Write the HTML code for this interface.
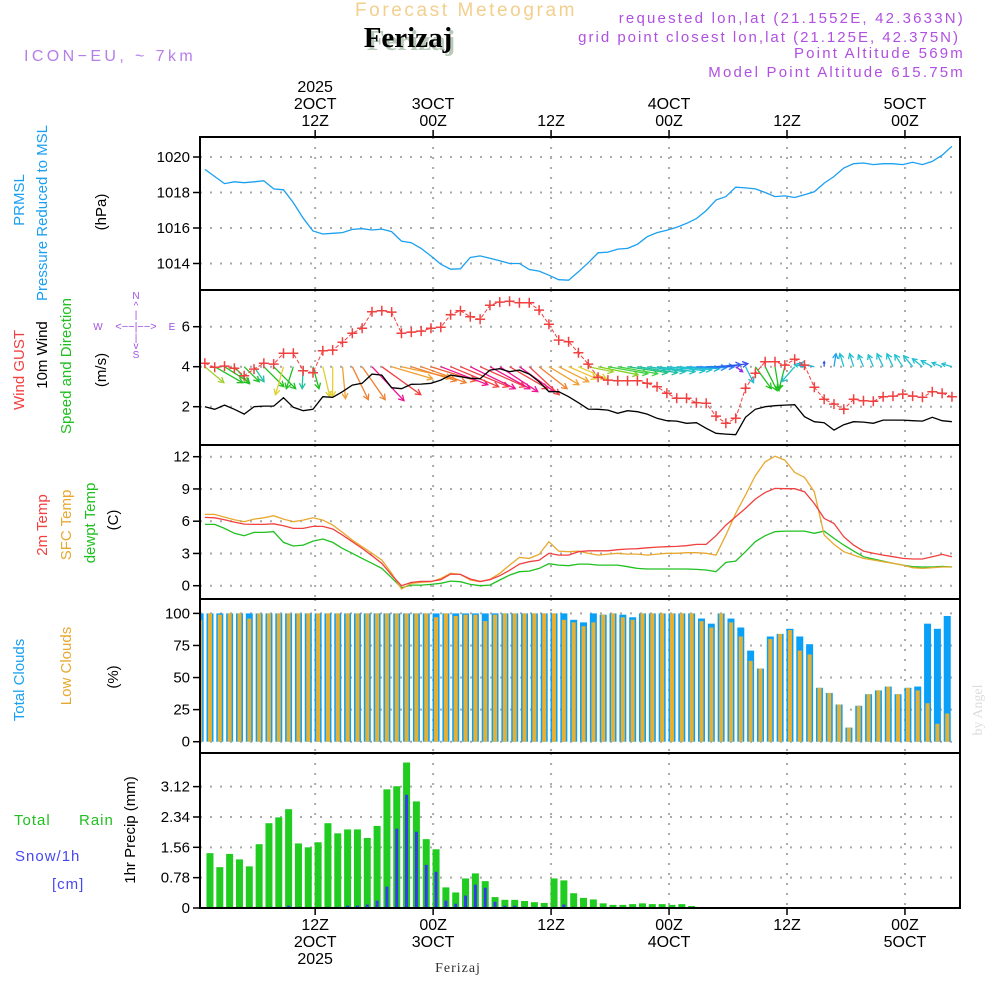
<!DOCTYPE html>
<html><head><meta charset="utf-8"><style>
html,body{margin:0;padding:0;background:#fff;}
svg{display:block;font-family:"Liberation Sans",sans-serif;}
</style></head><body>
<svg id="chart" xmlns="http://www.w3.org/2000/svg" width="1000" height="1000" viewBox="0 0 1000 1000">
<g id="header">
<text x="466" y="16" font-size="19" fill="#f3cf8e" text-anchor="middle" letter-spacing="2.6">Forecast Meteogram</text>
<text x="411" y="50" font-size="29" font-weight="bold" fill="#b9c9b9" text-anchor="middle" font-family="Liberation Serif, serif">Ferizaj</text>
<text x="408" y="47" font-size="29" font-weight="bold" fill="#000" text-anchor="middle" font-family="Liberation Serif, serif">Ferizaj</text>
<text x="24" y="61" font-size="16" fill="#b57ee8" letter-spacing="3.4">ICON−EU, ~ 7km</text>
<text x="965" y="23" font-size="15" fill="#b050e0" text-anchor="end" letter-spacing="2.2">requested lon,lat (21.1552E, 42.3633N)</text>
<text x="960" y="42" font-size="15" fill="#b050e0" text-anchor="end" letter-spacing="2.0">grid point closest lon,lat (21.125E, 42.375N)</text>
<text x="965" y="58" font-size="15" fill="#b050e0" text-anchor="end" letter-spacing="2.2">Point Altitude 569m</text>
<text x="965" y="77" font-size="15" fill="#b050e0" text-anchor="end" letter-spacing="2.2">Model Point Altitude 615.75m</text>
</g>
<g id="grid"></g>
<g id="marks"></g>
<g id="frames"></g>
<g id="labels" font-size="15">
<text transform="translate(24,200) rotate(-90)" fill="#1aa0f0" text-anchor="middle">PRMSL</text>
<text transform="translate(47,213) rotate(-90)" fill="#1aa0f0" text-anchor="middle">Pressure Reduced to MSL</text>
<text transform="translate(106,212) rotate(-90)" fill="#000" text-anchor="middle">(hPa)</text>
<text transform="translate(24,370) rotate(-90)" fill="#f04040" text-anchor="middle">Wind GUST</text>
<text transform="translate(47,355) rotate(-90)" fill="#000" text-anchor="middle">10m Wind</text>
<text transform="translate(71,366) rotate(-90)" fill="#20c020" text-anchor="middle">Speed and Direction</text>
<text transform="translate(106,370) rotate(-90)" fill="#000" text-anchor="middle">(m/s)</text>
<text transform="translate(47,525) rotate(-90)" fill="#f04040" text-anchor="middle">2m Temp</text>
<text transform="translate(71,525) rotate(-90)" fill="#e8a830" text-anchor="middle">SFC Temp</text>
<text transform="translate(95,523) rotate(-90)" fill="#20c020" text-anchor="middle">dewpt Temp</text>
<text transform="translate(118,520) rotate(-90)" fill="#000" text-anchor="middle">(C)</text>
<text transform="translate(24,680) rotate(-90)" fill="#1aa0f0" text-anchor="middle">Total Clouds</text>
<text transform="translate(71,666) rotate(-90)" fill="#e8a830" text-anchor="middle">Low Clouds</text>
<text transform="translate(118,677) rotate(-90)" fill="#000" text-anchor="middle">(%)</text>
<text x="14" y="825" fill="#20c020" letter-spacing="1">Total</text>
<text x="79" y="825" fill="#20c020" letter-spacing="1">Rain</text>
<text x="15" y="861" fill="#4848f0" letter-spacing="1">Snow/1h</text>
<text x="52" y="889" fill="#4848f0" letter-spacing="1">[cm]</text>
<text transform="translate(135,830) rotate(-90)" fill="#000" text-anchor="middle">1hr Precip (mm)</text>
<g fill="#a050e0" font-size="10" text-anchor="middle">
<text x="136" y="299">N</text><text x="136" y="309">^</text><text x="136" y="318">|</text>
<text x="98" y="330">W</text><text x="136" y="330" font-size="11">&lt;−−|−−&gt;</text><text x="172" y="330">E</text>
<text x="136" y="341">|</text><text x="136" y="349">v</text><text x="136" y="358">S</text>
</g>
<text x="458" y="972" font-size="14" fill="#333" text-anchor="middle" font-family="Liberation Serif, serif" letter-spacing="1">Ferizaj</text>
<text transform="translate(982,710) rotate(-90)" font-size="14" fill="#dddddd" text-anchor="middle" font-family="Liberation Serif, serif">by Angel</text>
</g>
</svg>
<script>
const pressure=[1019.3,1018.9,1018.5,1018.6,1018.55,1018.6,1018.66,1018.2,1018.15,1017.43,1016.55,1015.83,1015.66,1015.7,1015.74,1015.92,1015.96,1015.89,1015.94,1015.8,1015.26,1015.17,1014.85,1014.42,1013.96,1013.68,1013.7,1014.34,1014.43,1014.3,1014.15,1014.0,1014.0,1013.66,1013.57,1013.34,1013.09,1013.06,1013.53,1014.04,1014.6,1014.64,1014.81,1014.85,1015.08,1015.51,1015.74,1015.87,1016.04,1016.26,1016.53,1016.98,1017.58,1017.77,1018.3,1018.26,1018.2,1018.0,1017.77,1017.81,1017.72,1017.87,1018.04,1018.53,1018.9,1019.38,1019.62,1019.66,1019.57,1019.62,1019.62,1019.57,1019.7,1019.57,1019.75,1020.1,1020.6];
const gust=[4.17,3.97,4.03,3.92,3.55,3.88,4.17,4.13,4.67,4.67,3.80,3.70,4.80,4.83,5.22,5.67,5.92,6.75,6.80,6.73,5.67,5.73,5.78,5.92,5.97,6.60,6.80,6.50,6.37,7.07,7.23,7.27,7.20,7.20,6.83,6.12,5.33,5.25,4.70,4.13,3.47,3.33,3.30,3.30,3.30,3.17,3.0,2.67,2.42,2.42,2.20,2.17,1.53,1.17,1.42,2.92,3.67,4.25,4.25,4.08,4.37,4.08,2.97,2.37,2.13,1.87,2.37,2.30,2.27,2.50,2.53,2.63,2.53,2.47,2.75,2.67,2.50];
const wind10=[2.0,1.87,2.08,1.87,1.63,2.0,2.03,2.03,2.45,1.97,1.80,1.87,2.50,2.47,2.75,3.08,3.17,3.63,3.58,2.95,2.90,3.12,3.13,3.17,3.33,3.58,3.50,3.42,3.40,3.83,3.90,3.75,3.83,3.63,3.25,2.75,2.75,2.50,2.20,1.88,1.87,1.83,1.67,1.80,1.75,1.63,1.42,1.30,1.28,1.17,1.20,0.92,0.67,0.63,0.60,1.47,1.87,2.0,2.05,2.08,2.10,1.50,1.25,1.20,0.83,1.10,1.25,1.23,1.17,1.33,1.33,1.33,1.30,1.28,1.47,1.30,1.25];
const windU=[1.9,2.8,2.5,1.5,1.5,1.0,2.0,2.2,-0.8,-0.7,-0.1,0.6,0.7,0.0,0.3,1.6,2.3,3.2,3.9,4.1,5.0,4.5,4.5,4.5,4.7,4.8,4.8,4.5,4.5,4.0,3.8,3.8,3.5,3.0,2.8,3.0,3.0,2.8,2.8,2.5,4.0,4.0,4.0,4.0,4.0,3.8,3.8,3.8,3.5,3.3,3.0,2.8,2.5,2.2,0.7,0.8,1.6,1.2,0.4,-0.6,-1.3,-1.0,-1.6,0.0,0.2,-0.4,-0.4,-0.5,-0.5,-0.6,-0.6,-0.8,-0.9,-1.0,-1.1,-1.0,-1.0];
const windV=[-1.6,-1.6,-1.6,-1.7,-1.5,-1.5,-2.0,-2.2,-2.8,-2.2,-2.2,-2.2,-3.0,-3.0,-3.2,-3.3,-3.3,-3.4,-2.8,-1.2,-1.1,-1.4,-1.6,-1.4,-1.8,-2.0,-2.0,-2.2,-2.0,-2.2,-2.5,-2.2,-2.5,-2.8,-2.2,-1.8,-1.5,-1.2,-1.2,-0.5,-0.8,-0.7,-0.7,-0.6,-0.6,-0.5,-0.5,-0.4,-0.3,-0.2,-0.1,0.0,0.2,0.3,-0.5,-1.6,-2.2,-2.4,-2.4,-2.3,-1.5,0.2,0.3,0.5,1.3,1.3,1.3,1.2,1.2,1.3,1.3,1.2,1.1,0.8,0.6,0.4,0.3];
const windColor=["#a0d030","#20c020","#20c020","#20c020","#20c020","#20c0a0","#20c020","#20c020","#e0d030","#20c020","#20c0a0","#20c020","#e0d030","#e8d030","#f0a030","#f08030","#f08030","#f01090","#f04040","#f0a030","#f0a030","#f08030","#f08030","#f06030","#f01090","#f04040","#f04040","#f01090","#f04040","#f01090","#f01090","#f04040","#f01090","#f04040","#f08030","#f0a030","#f0a030","#f0c030","#e0d030","#a0d030","#80d020","#40d040","#40d040","#20c080","#20c0a0","#20c0c0","#20c0c0","#20c0d0","#20c0d0","#20b0e0","#2090f0","#2080f0","#3060f0","#3050f0","#9030e0","#20c0d0","#20c020","#20c020","#20c020","#20c020","#20c0c0","#20c0d0","#20b0e0","#3050f0","#20a0f0","#20c0d0","#20c0d0","#20c0d0","#20c0d0","#20c0d0","#20c0d0","#20c0d0","#20c0d0","#20c0d0","#20c0d0","#20c0d0","#20c0d0"];
const temp2m=[6.35,6.32,6.14,5.92,5.73,5.70,5.70,5.76,5.58,5.33,5.33,5.52,5.52,5.27,4.71,4.09,3.47,2.79,2.08,0.99,0.0,0.31,0.40,0.40,0.56,1.08,1.05,0.62,0.40,0.56,0.93,1.43,2.01,2.23,2.36,3.01,2.85,2.85,3.16,3.25,3.25,3.25,3.35,3.41,3.44,3.53,3.59,3.63,3.66,3.72,3.84,3.84,4.65,5.64,6.41,7.19,8.06,8.68,9.05,9.02,9.02,8.74,7.65,6.26,5.79,4.56,3.78,3.22,3.01,2.85,2.70,2.54,2.48,2.48,2.70,2.91,2.70];
const tempSfc=[6.63,6.63,6.38,6.14,5.95,6.2,6.32,6.51,6.2,5.95,6.1,6.32,6.1,5.64,4.96,4.25,3.63,3.01,2.39,1.15,-0.31,0.22,0.31,0.37,0.68,1.15,1.05,0.53,0.37,0.59,1.15,1.92,2.63,2.54,2.91,4.09,3.22,3.16,3.22,3.01,2.85,2.94,3.01,2.94,2.94,2.85,2.94,3.01,3.01,3.07,3.07,3.01,2.85,4.71,6.72,8.43,10.23,11.53,12.05,11.68,10.54,10.07,8.74,4.71,3.84,3.16,2.85,2.54,2.39,2.23,2.08,1.92,1.67,1.61,1.67,1.74,1.74];
const dewpt=[5.70,5.70,5.33,4.87,4.65,4.96,4.96,5.02,4.03,3.69,3.78,4.15,4.34,4.03,3.47,3.01,2.54,2.08,1.61,0.74,-0.19,0.06,0.06,0.12,0.22,0.43,0.37,0.12,0.0,0.06,0.53,0.99,1.30,1.36,1.61,2.05,1.92,1.86,2.01,2.01,1.92,1.92,1.92,1.77,1.61,1.55,1.55,1.55,1.55,1.55,1.52,1.46,1.30,2.17,2.29,3.16,4.09,4.65,5.02,5.08,5.08,5.08,4.87,5.08,4.40,3.78,3.22,2.70,2.48,2.29,2.08,1.92,1.77,1.74,1.74,1.80,1.74];
const totalClouds=[100,100,100,100,100,100,100,100,100,100,100,100,100,100,100,100,100,100,100,100,100,100,100,100,100,100,100,100,100,100,100,100,100,100,100,100,100,100,95,93,100,99,100,99,97,100,100,100,100,100,100,96,92,100,96,89,71,57,82,84,88,82,76,42,38,29,11,28,37,40,43,37,42,43,92,88,98];
const lowClouds=[95,100,99,100,100,96,100,100,100,100,100,100,100,100,100,100,100,100,100,100,100,100,100,100,97,100,98,99,99,94,99,100,100,100,100,100,100,95,93,90,93,99,100,97,95,100,100,100,100,100,100,94,89,100,93,82,63,57,80,84,87,71,68,42,38,29,11,28,37,40,43,37,42,40,30,14,22];
const rainTotal=[0,1.41,1.05,1.39,1.25,1.07,1.64,2.18,2.33,2.54,1.66,1.56,1.69,2.18,1.92,2.02,2.02,1.80,2.11,3.05,3.13,3.74,2.74,1.77,1.51,0.53,0.40,0.76,0.89,0.69,0.28,0.21,0.21,0.18,0.15,0.13,0.76,0.71,0.38,0.26,0.22,0.12,0.08,0.08,0.1,0.12,0.1,0.1,0.08,0.1,0.05,0,0,0,0,0,0,0,0,0,0,0,0,0,0,0,0,0,0,0,0,0,0,0,0,0,0];
const snowHr=[0,0,0,0,0,0,0,0.02,0.02,0.06,0.03,0,0.01,0.03,0.03,0.06,0.06,0.09,0.19,0.55,2.04,2.91,1.96,1.11,0.93,0.19,0.11,0.32,0.6,0.52,0.16,0.06,0.06,0.03,0.03,0.03,0.03,0.09,0.03,0.01,0,0,0,0,0,0,0,0,0,0,0,0,0,0,0,0,0,0,0,0,0,0,0,0,0,0,0,0,0,0,0,0,0,0,0,0,0];
const pTicks=[1014,1016,1018,1020];
const wTicks=[2,4,6];
const tTicks=[0,3,6,9,12];
const cTicks=[0,25,50,75,100];
const rTicks=[0,0.78,1.56,2.34,3.12];
const timeTicks=[12,24,36,48,60,72];
const topLabels=[["2025","2OCT","12Z"],["3OCT","00Z"],["12Z"],["4OCT","00Z"],["12Z"],["5OCT","00Z"]];
const bottomLabels=[["12Z","2OCT","2025"],["00Z","3OCT"],["12Z"],["00Z","4OCT"],["12Z"],["00Z","5OCT"]];

const NS="http://www.w3.org/2000/svg";
const X0=200,X1=960;
const xOf=h=>197.2+9.83*h;
const lineH=i=>i+0.78;
const barH=i=>i+0.3;
const yP=p=>157+(1020-p)*17.75;
const yW=v=>446.7-20*v;
const yT=t=>585.7-10.75*t;
const yC=c=>741.7-1.283*c;
const yR=r=>908-38.9*r;
const panels=[[137,290],[290,445],[445,599],[599,753],[753,908]];
function el(tag,attrs,parent){const e=document.createElementNS(NS,tag);for(const k in attrs)e.setAttribute(k,attrs[k]);parent.appendChild(e);return e;}
const grid=document.getElementById('grid'),marks=document.getElementById('marks'),frames=document.getElementById('frames'),labels=document.getElementById('labels');
const dotted={stroke:"#aaa","stroke-width":"2","stroke-dasharray":"2 8"};
panels.forEach(([a,b])=>{timeTicks.forEach(h=>{const l=el('line',Object.assign({x1:xOf(h),x2:xOf(h),y1:a,y2:b},dotted),grid);

});});
function yAxis(ticks,yf,fmt,a,b,name){ticks.forEach(t=>{const y=yf(t);
if(y>a+3&&y<b-3){const g=el('line',Object.assign({x1:X0,x2:X1,y1:y,y2:y},dotted),grid);

}
const tk=el('line',{x1:X0-7,x2:X0,y1:y,y2:y,stroke:"#000","stroke-width":"1.5"},frames);


const tx=el('text',{x:X0-10,y:y+5,"text-anchor":"end","font-size":"15",fill:"#000"},labels);tx.textContent=fmt(t);

});}
yAxis(pTicks,yP,String,137,290,'pressure');
yAxis(wTicks,yW,String,290,445,'wind');
yAxis(tTicks,yT,String,445,599,'temp');
yAxis(cTicks,yC,String,599,753,'clouds');
yAxis(rTicks,yR,t=>t===0?"0":t.toFixed(2),753,908,'precip');
function poly(arr,yf,color,name,w){const pts=arr.map((v,i)=>xOf(lineH(i)).toFixed(1)+","+yf(v).toFixed(1)).join(" ");
const p=el('polyline',{points:pts,fill:"none",stroke:color,"stroke-width":w||"1.3"},marks);

}
poly(pressure,yP,"#1aa0f0","pressure-line");
windU.forEach((u,i)=>{const x=xOf(lineH(i)),y=yW(4);const dx=u*10,dy=-windV[i]*10;const len=Math.hypot(dx,dy);if(len<1)return;
const g=el('g',{stroke:windColor[i],"stroke-width":"1.3",fill:"none"},marks);


const ex=x+dx,ey=y+dy,ux=dx/len,uy=dy/len,hs=Math.min(6,len*0.4);
el('line',{x1:x,y1:y,x2:ex,y2:ey},g);
el('polyline',{points:`${ex-hs*(ux*0.9-uy*0.5)},${ey-hs*(uy*0.9+ux*0.5)} ${ex},${ey} ${ex-hs*(ux*0.9+uy*0.5)},${ey-hs*(uy*0.9-ux*0.5)}`},g);});
poly(wind10,yW,"#000","wind-10m-line");
const gp=gust.map((v,i)=>xOf(lineH(i)).toFixed(1)+","+yW(v).toFixed(1)).join(" ");
const gl=el('polyline',{points:gp,fill:"none",stroke:"#f04040","stroke-width":"1","stroke-dasharray":"4 2"},marks);


gust.forEach((v,i)=>{const x=xOf(lineH(i)),y=yW(v);const m=el('path',{d:`M${x-5},${y}H${x+5}M${x},${y-5}V${y+5}`,stroke:"#f04040","stroke-width":"1.5"},marks);

});
poly(dewpt,yT,"#20c020","dewpoint-line");
poly(tempSfc,yT,"#e8a830","sfc-temp-line");
poly(temp2m,yT,"#f04040","temp-2m-line");
totalClouds.forEach((c,i)=>{const x=xOf(barH(i));let l=x-3.5,r=x+3.5;l=Math.max(l,X0);r=Math.min(r,X1);if(r<=l)return;
const b=el('rect',{x:l,y:yC(c),width:r-l,height:yC(0)-yC(c),fill:"#0aa0f8"},marks);


const lc=lowClouds[i];let l2=Math.max(x-2,X0),r2=Math.min(x+2,X1);if(r2>l2){
const b2=el('rect',{x:l2,y:yC(lc),width:r2-l2,height:yC(0)-yC(lc),fill:"#e8b030"},marks);

}});
rainTotal.forEach((r,i)=>{if(r<=0)return;const x=xOf(barH(i));
const b=el('rect',{x:x-3.5,y:yR(r),width:7,height:yR(0)-yR(r),fill:"#20cc20"},marks);


const s=snowHr[i];if(s>0){const b2=el('rect',{x:x-1.5,y:yR(s),width:3,height:yR(0)-yR(s),fill:"#3838f0"},marks);

}});
panels.forEach(([a,b])=>{const f=el('rect',{x:X0,y:a,width:X1-X0,height:b-a,fill:"none",stroke:"#000","stroke-width":"2"},frames);

});
timeTicks.forEach((h,k)=>{const x=xOf(h);
const t1=el('line',{x1:x,x2:x,y1:130,y2:137,stroke:"#000","stroke-width":"1.5"},frames);


const t2=el('line',{x1:x,x2:x,y1:908,y2:915,stroke:"#000","stroke-width":"1.5"},frames);


const tl=topLabels[k];tl.forEach((s,j)=>{const t=el('text',{x:x,y:126-(tl.length-1-j)*17,"text-anchor":"middle","font-size":"16",fill:"#000"},labels);t.textContent=s;

});
bottomLabels[k].forEach((s,j)=>{const t=el('text',{x:x,y:930+j*17,"text-anchor":"middle","font-size":"16",fill:"#000"},labels);t.textContent=s;

});});
</script>
</body></html>
